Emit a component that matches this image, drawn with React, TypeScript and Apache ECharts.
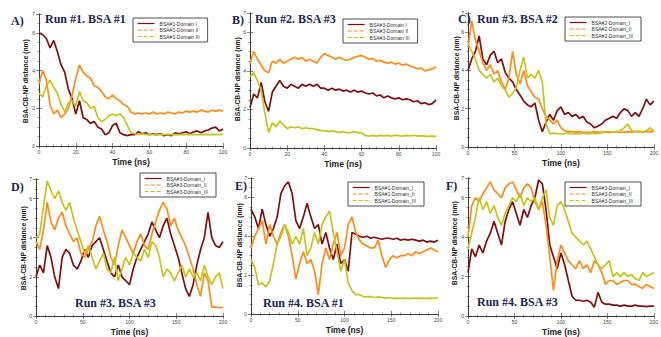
import React, { useEffect, useRef } from "react";
import * as echarts from "echarts";

// ---- colours ----
const C1 = "#7d0f0f";
const C2 = "#ff8c1a";
const C3 = "#c4c41e";

// ---- time grids ----
const T100 = Array.from({ length: 51 }, (_, i) => i * 2);
const T200 = Array.from({ length: 51 }, (_, i) => i * 4);

// ---- Panel A: Run #1, BSA #1 (0-100 ns, every 2 ns) ----
const A_I = [6.0,5.9,5.7,5.2,5.6,5.0,4.3,3.9,3.0,2.5,1.7,2.4,1.5,1.4,1.2,1.3,1.0,0.9,0.6,0.7,1.1,1.2,0.7,0.6,0.55,0.6,0.6,0.75,0.65,0.7,0.6,0.65,0.6,0.65,0.55,0.6,0.55,0.7,0.65,0.7,0.75,0.65,0.75,0.8,0.7,0.8,0.85,0.95,1.0,0.8,0.9];
const A_II = [3.3,4.0,3.5,2.2,1.7,1.9,1.5,1.7,2.0,2.7,3.6,4.3,3.9,3.7,3.6,3.2,3.1,2.9,2.6,2.5,2.7,2.5,2.4,2.2,2.1,1.8,1.7,1.75,1.7,1.75,1.7,1.8,1.7,1.75,1.7,1.8,1.75,1.7,1.8,1.75,1.85,1.8,1.85,1.8,1.9,1.85,1.8,1.9,1.85,1.9,1.85];
const A_III = [2.8,2.6,3.2,3.5,3.1,2.8,2.2,1.8,2.3,2.4,2.1,2.9,2.4,2.3,2.0,2.1,1.5,1.3,1.4,1.6,1.7,1.6,1.7,1.5,1.1,0.7,0.65,0.6,0.65,0.6,0.62,0.6,0.58,0.62,0.6,0.6,0.62,0.6,0.6,0.62,0.6,0.62,0.6,0.6,0.62,0.6,0.62,0.6,0.62,0.6,0.62];

// ---- Panel B: Run #2, BSA #3 (0-100 ns) ----
const B_I = [2.1,2.8,2.6,3.4,2.4,1.9,2.9,3.2,3.5,3.2,3.1,3.3,3.2,3.1,3.3,3.2,3.3,3.2,3.3,3.1,3.1,3.0,3.1,3.0,3.05,2.95,3.0,2.9,3.0,2.9,2.95,2.85,2.8,2.85,2.7,2.75,2.6,2.7,2.6,2.55,2.6,2.5,2.55,2.5,2.4,2.45,2.3,2.35,2.25,2.3,2.5];
const B_II = [4.4,5.0,4.6,4.3,4.0,3.9,4.5,4.4,4.6,4.4,4.5,4.6,4.7,4.6,4.7,4.5,4.6,4.5,4.4,4.7,4.9,4.8,4.7,4.6,4.7,4.6,4.55,4.6,4.7,4.75,4.8,4.7,4.6,4.65,4.5,4.55,4.45,4.4,4.45,4.35,4.4,4.3,4.35,4.25,4.2,4.1,4.15,4.0,4.05,4.1,4.2];
const B_III = [3.7,3.9,3.5,3.0,1.8,0.8,1.3,1.1,1.4,1.2,1.0,1.1,1.05,1.1,1.0,1.05,1.0,1.0,0.95,0.9,0.9,0.85,0.9,0.85,0.8,0.85,0.8,0.8,0.85,0.8,0.8,0.65,0.62,0.65,0.62,0.65,0.63,0.65,0.62,0.66,0.64,0.62,0.65,0.63,0.66,0.62,0.64,0.62,0.6,0.62,0.6];

// ---- Panel C: Run #3, BSA #2 (0-200 ns, every 4 ns) ----
const C_I = [4.0,4.6,5.0,5.8,4.6,4.3,4.8,5.0,4.4,4.6,3.9,3.6,3.4,3.0,2.7,2.4,2.2,2.1,2.3,1.4,0.8,1.3,1.7,1.4,1.9,2.1,1.7,1.8,1.6,1.7,1.5,1.6,1.3,1.2,1.0,1.1,1.2,1.4,1.5,1.6,1.5,1.8,2.0,1.9,1.6,1.8,1.6,2.0,2.5,2.2,2.4];
const C_II = [5.2,6.6,5.6,5.0,4.4,4.0,4.3,3.8,4.0,3.4,3.0,3.6,5.0,3.8,3.3,4.0,3.2,2.9,2.6,2.5,2.0,1.6,1.4,1.2,1.4,1.0,0.85,0.8,0.8,0.78,0.8,0.75,0.78,0.75,0.8,0.76,0.78,0.8,0.75,0.78,0.8,0.76,0.78,0.8,0.78,0.8,0.82,0.78,0.8,0.82,0.8];
const C_III = [5.4,5.0,4.6,4.0,3.8,3.6,3.8,3.4,3.6,3.2,3.0,2.6,2.8,3.1,4.0,4.7,3.6,3.8,3.6,4.0,3.4,1.2,0.7,0.72,0.7,0.68,0.7,0.72,0.7,0.68,0.7,0.72,0.7,0.7,0.72,0.7,0.75,0.78,0.8,0.78,0.8,0.85,1.0,1.2,0.85,0.8,0.82,0.8,0.85,1.0,0.82];

// ---- Panel D: Run #3, BSA #3 ----
const D_I = [2.0,2.6,2.2,3.6,3.0,2.0,1.4,3.0,3.4,3.2,2.6,2.4,2.8,3.4,3.0,3.6,3.8,4.0,3.4,2.8,2.2,2.0,2.6,2.0,1.8,1.6,2.4,3.0,3.4,3.8,4.2,4.8,4.4,4.0,4.6,5.0,4.2,3.6,3.0,2.2,1.4,1.0,1.6,2.6,3.4,4.0,5.3,4.0,3.6,3.5,3.8];
const D_II = [3.8,3.4,4.4,5.8,4.8,4.4,5.0,5.3,4.6,4.2,3.8,4.0,3.2,3.0,3.4,3.8,4.6,5.1,4.4,3.8,3.0,2.6,3.6,4.4,4.0,3.6,3.2,3.8,4.2,3.6,3.4,4.2,4.8,5.4,5.8,5.5,4.6,5.0,4.4,4.0,3.6,3.0,2.4,1.6,1.0,2.2,1.8,0.45,0.45,0.42,0.45];
const D_III = [4.0,4.2,5.6,6.9,6.4,6.0,6.4,5.8,5.4,5.8,5.0,4.4,3.8,3.2,3.6,3.0,2.4,2.8,3.2,2.4,2.2,3.0,1.8,2.4,3.0,2.6,3.2,3.0,2.8,3.4,3.0,3.8,3.6,3.0,2.0,2.4,2.2,1.8,2.2,2.6,2.0,2.4,2.0,2.2,1.8,2.6,2.0,1.6,2.0,2.2,1.4];

// ---- Panel E: Run #4, BSA #1 ----
const E_I = [5.4,5.0,4.4,5.4,4.6,4.0,4.4,5.0,6.2,6.6,6.8,6.2,4.8,4.4,5.0,5.7,5.0,4.4,4.6,3.6,4.2,3.4,2.8,3.6,2.6,2.8,2.2,4.2,4.1,4.0,3.95,4.0,3.9,3.95,3.9,3.85,3.9,3.9,3.85,3.9,3.8,3.85,3.8,3.85,3.8,3.75,3.8,3.7,3.75,3.7,3.8];
const E_II = [3.4,4.0,4.4,4.8,3.6,4.6,4.0,3.6,4.2,4.6,4.0,3.0,1.8,2.6,3.2,2.6,2.8,2.2,1.0,2.6,3.4,2.8,3.6,4.2,3.0,3.4,4.6,5.0,4.2,3.8,3.6,3.5,3.4,3.4,3.8,3.0,2.4,2.8,3.0,2.9,3.0,3.0,3.1,3.0,3.2,3.1,3.2,3.3,3.4,3.3,3.2];
const E_III = [2.8,2.4,1.5,1.6,1.4,1.7,2.6,3.6,4.0,4.6,4.2,3.6,4.0,3.6,4.4,3.0,3.4,4.2,3.6,4.6,5.0,5.3,4.2,3.2,2.2,2.8,1.6,1.2,1.0,1.0,0.9,0.88,0.9,0.85,0.88,0.85,0.82,0.85,0.8,0.82,0.8,0.82,0.8,0.8,0.82,0.8,0.82,0.8,0.82,0.8,0.85];

// ---- Panel F: Run #4, BSA #3 ----
const F_I = [2.2,3.4,3.0,3.6,3.2,3.8,4.2,4.8,4.2,3.6,4.8,5.4,5.8,5.2,4.6,5.4,5.0,5.6,6.0,6.9,6.7,5.4,3.6,3.0,2.4,3.2,2.6,1.8,1.0,0.8,0.8,0.75,0.8,0.7,0.45,1.2,0.7,0.6,0.6,0.55,0.55,0.5,0.55,0.5,0.5,0.55,0.5,0.5,0.48,0.5,0.5];
const F_II = [4.0,5.6,6.0,5.8,6.2,6.5,6.8,6.4,6.2,6.0,6.5,6.7,6.8,6.4,6.0,6.5,6.7,6.5,5.8,5.4,5.8,4.6,3.0,1.3,2.8,3.6,3.2,2.8,2.6,2.4,2.8,2.4,2.6,2.2,2.8,2.6,2.2,1.6,1.8,1.8,1.6,1.7,1.8,1.8,1.6,1.6,1.5,1.4,1.6,1.5,1.4];
const F_III = [3.4,4.2,5.0,6.0,5.4,5.8,5.2,5.6,5.0,4.6,5.2,5.6,6.0,5.8,6.2,5.6,6.0,5.8,6.0,5.4,6.0,6.4,5.0,4.6,5.6,5.8,5.4,4.8,4.2,4.0,3.8,3.6,3.8,3.4,3.0,2.6,2.4,2.6,2.8,2.0,2.2,2.0,2.2,2.0,2.1,1.9,1.8,2.2,2.0,2.1,2.2];

// ---- labels ----
const NAMES_A = ["BSA#1-Domain I", "BSA#1-Domain II", "BSA#1-Domain III"];
const NAMES_B = ["BSA#3-Domain I", "BSA#3-Domain II", "BSA#3-Domain III"];
const NAMES_C = ["BSA#2-Domain_I", "BSA#2-Domain_II", "BSA#2-Domain_III"];
const NAMES_D = ["BSA#3-Domain_I", "BSA#3-Domain_II", "BSA#3-Domain_III"];
const NAMES_E = ["BSA#1-Domain_I", "BSA#1-Domain_II", "BSA#1-Domain_III"];
const NAMES_F = ["BSA#3-Domain_I", "BSA#3-Domain_II", "BSA#3-Domain_III"];
const TITLES = ["Run #1. BSA #1", "Run #2. BSA #3", "Run #3. BSA #2", "Run #3. BSA #3", "Run #4. BSA #1", "Run #4. BSA #3"];
const LETTERS = ["A)", "B)", "C)", "D)", "E)", "F)"];
const X_TITLE = "Time (ns)";
const Y_TITLE = "BSA-CB-NP distance (nm)";

// ytitle: [centre x, bottom y] of the rotated axis title
const panels = [
  { grid: { left: 39, top: 14, width: 184, height: 132 }, t: T100, xMax: 100, xInt: 20, data: [A_I, A_II, A_III], names: NAMES_A, title: [45, 13], letter: [11, 15], legend: [133, 18], ytitle: [26, 135] },
  { grid: { left: 250, top: 13, width: 186, height: 135 }, t: T100, xMax: 100, xInt: 20, data: [B_I, B_II, B_III], names: NAMES_B, title: [255, 13], letter: [232, 14], legend: [343, 19], ytitle: [237.5, 133] },
  { grid: { left: 468, top: 13, width: 187, height: 134 }, t: T200, xMax: 200, xInt: 50, data: [C_I, C_II, C_III], names: NAMES_C, title: [477, 13], letter: [458, 13], legend: [565, 17], ytitle: [457, 132] },
  { grid: { left: 36, top: 179, width: 187, height: 137 }, t: T200, xMax: 200, xInt: 50, data: [D_I, D_II, D_III], names: NAMES_D, title: [75, 297], letter: [11, 181], legend: [140, 173], ytitle: [23.5, 302] },
  { grid: { left: 251, top: 178, width: 187, height: 136 }, t: T200, xMax: 200, xInt: 50, data: [E_I, E_II, E_III], names: NAMES_E, title: [263, 297], letter: [235, 180], legend: [348, 182], ytitle: [240, 299] },
  { grid: { left: 468, top: 178, width: 187, height: 138 }, t: T200, xMax: 200, xInt: 50, data: [F_I, F_II, F_III], names: NAMES_F, title: [477, 296], letter: [446, 180], legend: [565, 182], ytitle: [455, 297] },
];

const COLORS = [C1, C2, C3];
const SANS = "Liberation Sans, Arial, sans-serif";
const SERIF = "Liberation Serif, Times New Roman, serif";
const NAVY = "#1d2452";

export default function App() {
  const ref = useRef<HTMLDivElement>(null);
  useEffect(() => {
    if (!ref.current) return;
    const chart = echarts.init(ref.current, null, { renderer: "svg" });
    const grids: any[] = [];
    const xAxes: any[] = [];
    const yAxes: any[] = [];
    const series: any[] = [];
    const legends: any[] = [];
    const graphics: any[] = [];
    const axisLine = { show: true, lineStyle: { color: "#333", width: 0.8 } };
    const tick = { show: true, inside: true, length: 3, lineStyle: { color: "#333", width: 0.6 } };
    const minor = (n: number) => ({ show: true, splitNumber: n, length: 1.5, lineStyle: { color: "#333", width: 0.5 } });
    panels.forEach((p, i) => {
      grids.push({ ...p.grid, containLabel: false });
      const xBase = { type: "value", gridIndex: i, min: 0, max: p.xMax, interval: p.xInt, splitLine: { show: false }, axisLine, axisTick: tick, minorTick: minor(5) };
      xAxes.push({
        ...xBase, position: "bottom",
        axisLabel: { fontSize: 5, color: "#444", fontFamily: SANS, margin: 3 },
        name: X_TITLE, nameLocation: "middle", nameGap: 11,
        nameTextStyle: { fontSize: 8.5, fontWeight: "bold", color: "#222", fontFamily: SANS },
      });
      xAxes.push({ ...xBase, position: "top", axisLabel: { show: false } });
      const yBase = { type: "value", gridIndex: i, min: 0, max: 7, interval: 2, splitLine: { show: false }, axisLine, axisTick: tick, minorTick: minor(4) };
      yAxes.push({
        ...yBase, position: "left",
        axisLabel: { fontSize: 5, color: "#444", fontFamily: SANS, margin: 4 },
      });
      yAxes.push({ ...yBase, position: "right", axisLabel: { show: false } });
      p.data.forEach((vals, k) => {
        series.push({
          type: "line", name: p.names[k], xAxisIndex: i * 2, yAxisIndex: i * 2,
          data: p.t.map((t, j) => [t, vals[j]]),
          symbol: "none", showSymbol: false,
          lineStyle: { color: COLORS[k], width: 1.7 }, itemStyle: { color: COLORS[k] },
        });
      });
      legends.push({
        orient: "vertical", left: p.legend[0], top: p.legend[1],
        itemWidth: 17, itemHeight: 5, itemGap: 1.5, padding: [3, 8, 3, 4],
        borderColor: "#222", borderWidth: 0.8, backgroundColor: "#fff", borderRadius: 0,
        selectedMode: false,
        itemStyle: { opacity: 0 },
        textStyle: { fontSize: 5, color: "#333", fontFamily: SANS },
        data: p.names.map((n, k) => ({ name: n, itemStyle: { opacity: 0 }, lineStyle: { color: COLORS[k], width: 1.2, type: k === 0 ? "solid" : [4, 2] } })),
      });
      graphics.push({
        type: "text", id: "title" + i, x: p.title[0], y: p.title[1], z: 100,
        style: { text: TITLES[i], font: `bold 12px ${SERIF}`, fill: NAVY },
      });
      graphics.push({
        type: "text", id: "letter" + i, x: p.letter[0], y: p.letter[1], z: 100,
        style: { text: LETTERS[i], font: `bold 12px ${SERIF}`, fill: NAVY },
      });
      // rotated y-axis title, drawn as a group so its placement is by its own box
      graphics.push({
        type: "group", id: "yt" + i, left: p.ytitle[0] - 4, top: p.ytitle[1] - 96, z: 100,
        children: [{
          type: "text", rotation: Math.PI / 2,
          style: { text: Y_TITLE, font: `bold 6.8px ${SANS}`, fill: "#222", align: "left", verticalAlign: "middle" },
        }],
      });
    });
    chart.setOption({
      animation: false,
      backgroundColor: "#fff",
      grid: grids, xAxis: xAxes, yAxis: yAxes, series, legend: legends, graphic: graphics,
    });
    return () => chart.dispose();
  }, []);
  return <div ref={ref} style={{ position: "fixed", left: 0, top: 0, width: 661, height: 337, background: "#fff" }} />;
}
